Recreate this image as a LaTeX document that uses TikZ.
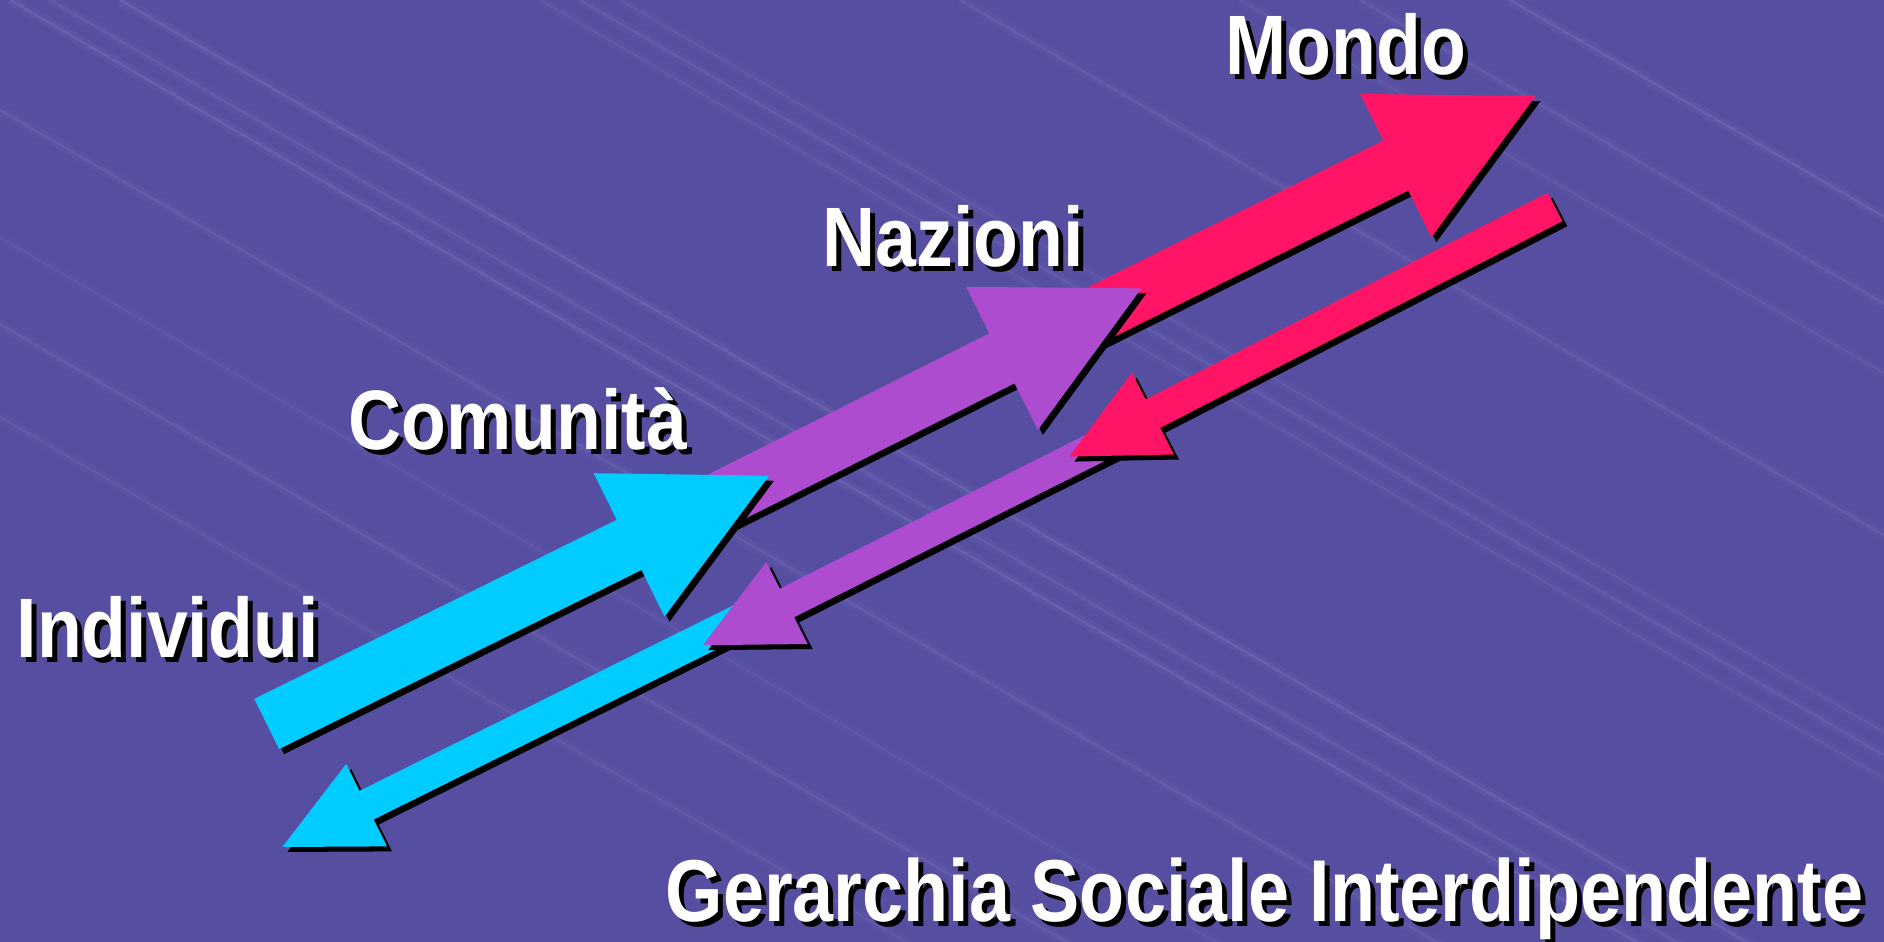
\documentclass[tikz,border=0pt]{standalone}
\usepackage{fontspec}
\newfontfamily\slidefont[FakeStretch=0.87]{Liberation Sans}
\newfontfamily\headingfont[FakeStretch=0.84]{Liberation Sans}
\usetikzlibrary{calc}

\definecolor{slidebg}{RGB}{86,79,161}
\definecolor{streak}{RGB}{165,160,230}
\definecolor{cyanarrow}{RGB}{0,204,255}
\definecolor{purplearrow}{RGB}{174,76,208}
\definecolor{pinkarrow}{RGB}{255,20,102}

% block arrow: colour, tail, tip, half shaft, half head, head length, offset
\newcommand{\arrowfill}[7]{%
  \fill[#1] let \p1=($(#3)-(#2)$), \n1={atan2(\y1,\x1)}, \n2={veclen(\x1,\y1)} in
    ($(#2)+(#7)+(\n1+90:#4)$) -- ($(#2)+(#7)+(\n1:{\n2-#6})+(\n1+90:#4)$)
    -- ($(#2)+(#7)+(\n1:{\n2-#6})+(\n1+90:#5)$) -- ($(#3)+(#7)$)
    -- ($(#2)+(#7)+(\n1:{\n2-#6})+(\n1-90:#5)$) -- ($(#2)+(#7)+(\n1:{\n2-#6})+(\n1-90:#4)$)
    -- ($(#2)+(#7)+(\n1-90:#4)$) -- cycle;}
\newcommand{\bigarrow}[3]{%
  \arrowfill{black}{#2}{#3}{0.28cm}{0.80cm}{1.56cm}{0.05,-0.05}%
  \arrowfill{#1}{#2}{#3}{0.28cm}{0.80cm}{1.56cm}{0,0}}
\newcommand{\backarrow}[3]{%
  \arrowfill{black}{#2}{#3}{0.16cm}{0.46cm}{0.94cm}{0.05,-0.05}%
  \arrowfill{#1}{#2}{#3}{0.16cm}{0.46cm}{0.94cm}{0,0}}
% white text with a black drop shadow
\newcommand{\slidelabel}[4]{%
  \node[#1, black] (#2-shadow) at ([shift={(0.05,-0.05)}]#3) {#4};
  \node[#1, white] (#2) at (#3) {#4};}

\begin{document}
\begin{tikzpicture}[
    word/.style={font=\slidefont\bfseries\fontsize{24pt}{28pt}\selectfont, inner sep=0pt, anchor=base west},
    heading/.style={word, font=\headingfont\bfseries\fontsize{25pt}{30pt}\selectfont}]
    \useasboundingbox (0,0) rectangle (18.84,9.42);
    \fill[slidebg] (0,0) rectangle (18.84,9.42);

    % soft streaks in the background
    \begin{scope}
    \clip (0,0) rectangle (18.84,9.42);
    \foreach \s/\o in {-7.2/0.6, -5.6/0.8, -4.1/0.5, -1.9/0.8, 0.1/1, 0.5/0.8, 1.2/1, 5.4/0.6, 5.8/0.8, 6.2/0.6, 9.6/0.8, 12.4/0.6, 13.6/0.8, 15.1/1} {
        \draw[streak, opacity=0.07*\o, line width=3pt] (\s,9.42) -- ++(24,-13.9);
        \draw[streak, opacity=0.16*\o, line width=0.7pt] (\s,9.42) -- ++(24,-13.9);
    }
    \end{scope}

    \coordinate (cyan-tail) at (2.667,2.18);
    \coordinate (cyan-tip) at (7.69,4.662);
    \coordinate (purple-tail) at (7.00,4.32);
    \coordinate (purple-tip) at (11.414,6.536);
    \coordinate (pink-tail) at (10.65,6.12);
    \coordinate (pink-tip) at (15.355,8.459);

    \coordinate (cyan-back-tail) at (7.50,3.27);
    \coordinate (cyan-back-tip) at (2.824,0.95);
    \coordinate (purple-back-tail) at (11.15,5.04);
    \coordinate (purple-back-tip) at (7.03,2.968);
    \coordinate (pink-back-tail) at (15.55,7.35);
    \coordinate (pink-back-tip) at (10.693,4.854);

    \backarrow{cyanarrow}{cyan-back-tail}{cyan-back-tip}
    \backarrow{purplearrow}{purple-back-tail}{purple-back-tip}
    \backarrow{pinkarrow}{pink-back-tail}{pink-back-tip}

    \bigarrow{pinkarrow}{pink-tail}{pink-tip}
    \bigarrow{purplearrow}{purple-tail}{purple-tip}
    \bigarrow{cyanarrow}{cyan-tail}{cyan-tip}

    \slidelabel{word}{mondo}{12.25,8.67}{Mondo}
    \slidelabel{word}{nazioni}{8.22,6.75}{Nazioni}
    \slidelabel{word}{comunita}{3.48,4.92}{Comunità}
    \slidelabel{word}{individui}{0.16,2.84}{Individui}
    \slidelabel{heading}{title}{6.65,0.20}{Gerarchia Sociale Interdipendente}
\end{tikzpicture}
\end{document}
